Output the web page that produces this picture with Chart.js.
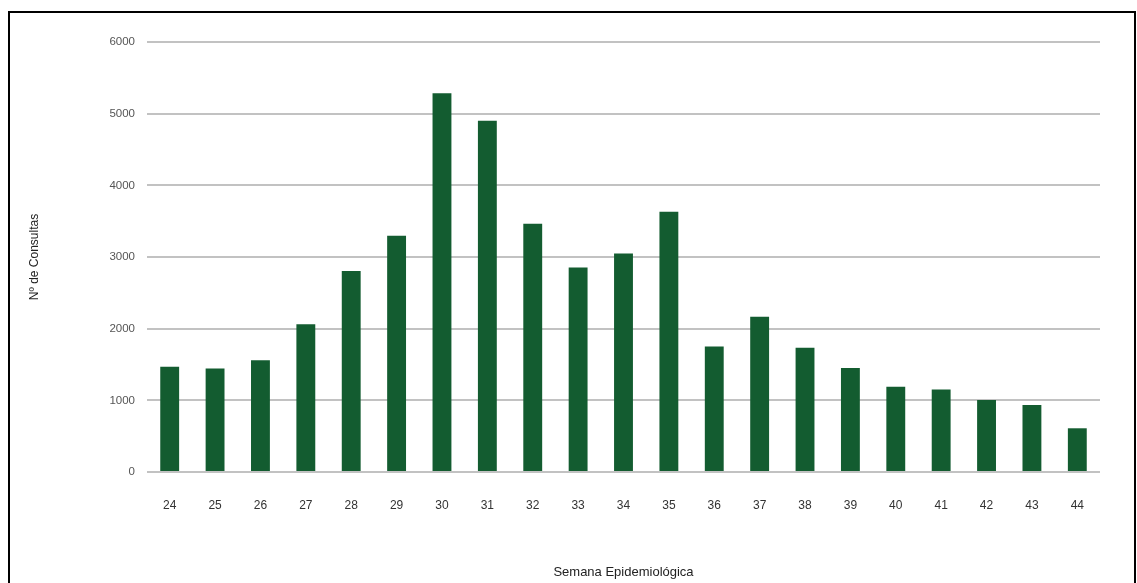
<!DOCTYPE html>
<html>
<head>
<meta charset="utf-8">
<script src="https://cdn.jsdelivr.net/npm/chart.js@4/dist/chart.umd.min.js"></script>
<style>
  html, body { margin: 0; padding: 0; background: #fff; overflow: hidden; }
  #wrap { position: relative; width: 1137px; height: 583px; }
  #frame { position: absolute; left: 8px; top: 11px; width: 1128px; height: 600px; border: 2px solid #000; box-sizing: border-box; pointer-events: none; }
  canvas { position: absolute; left: 0; top: 0; }
</style>
</head>
<body>
<div id="wrap">
  <canvas id="c" width="1137" height="583"></canvas>
  <div id="frame"></div>
</div>
<script>
// Weekly consultations by epidemiological week
const semanas = ['24','25','26','27','28','29','30','31','32','33','34','35','36','37','38','39','40','41','42','43','44'];
const consultas = [1470, 1445, 1560, 2060, 2805, 3295, 5285, 4900, 3465, 2855, 3050, 3630, 1750, 2165, 1735, 1450, 1190, 1150, 1005, 935, 610];
const yTicks = [0, 1000, 2000, 3000, 4000, 5000, 6000];

const font = 'Liberation Sans, Arial, sans-serif';

new Chart(document.getElementById('c'), {
  type: 'bar',
  data: {
    labels: semanas,
    datasets: [{
      data: consultas,
      backgroundColor: '#135c30',
      borderWidth: 0,
      categoryPercentage: 0.8,
      barPercentage: 0.52
    }]
  },
  options: {
    responsive: false,
    animation: false,
    devicePixelRatio: 1,
    layout: { padding: { left: 20, right: 37, top: 42, bottom: 0 } },
    plugins: { legend: { display: false }, tooltip: { enabled: false }, title: { display: false } },
    scales: {
      x: {
        grid: { display: false, drawTicks: false },
        border: { display: false },
        ticks: { color: '#333', font: { family: font, size: 12 }, padding: 26, maxRotation: 0 },
        title: { display: true, text: 'Semana Epidemiológica', color: '#222', font: { family: font, size: 13 }, padding: { top: 0, bottom: 3 } },
        afterFit: s => { s.height = 111; }
      },
      y: {
        min: 0, max: 6000,
        afterBuildTicks: s => { s.ticks = yTicks.map(v => ({ value: v })); },
        grid: { color: '#c2c2c2', lineWidth: 2, drawTicks: false },
        border: { display: false },
        ticks: { color: '#555', font: { family: font, size: 11.5 }, padding: 12, callback: v => String(v) },
        title: { display: true, text: 'Nº de Consultas', color: '#222', font: { family: font, size: 12 }, padding: { top: 7, bottom: 0 } },
        afterFit: s => { s.width = 127; }
      }
    }
  }
});
</script>
</body>
</html>
